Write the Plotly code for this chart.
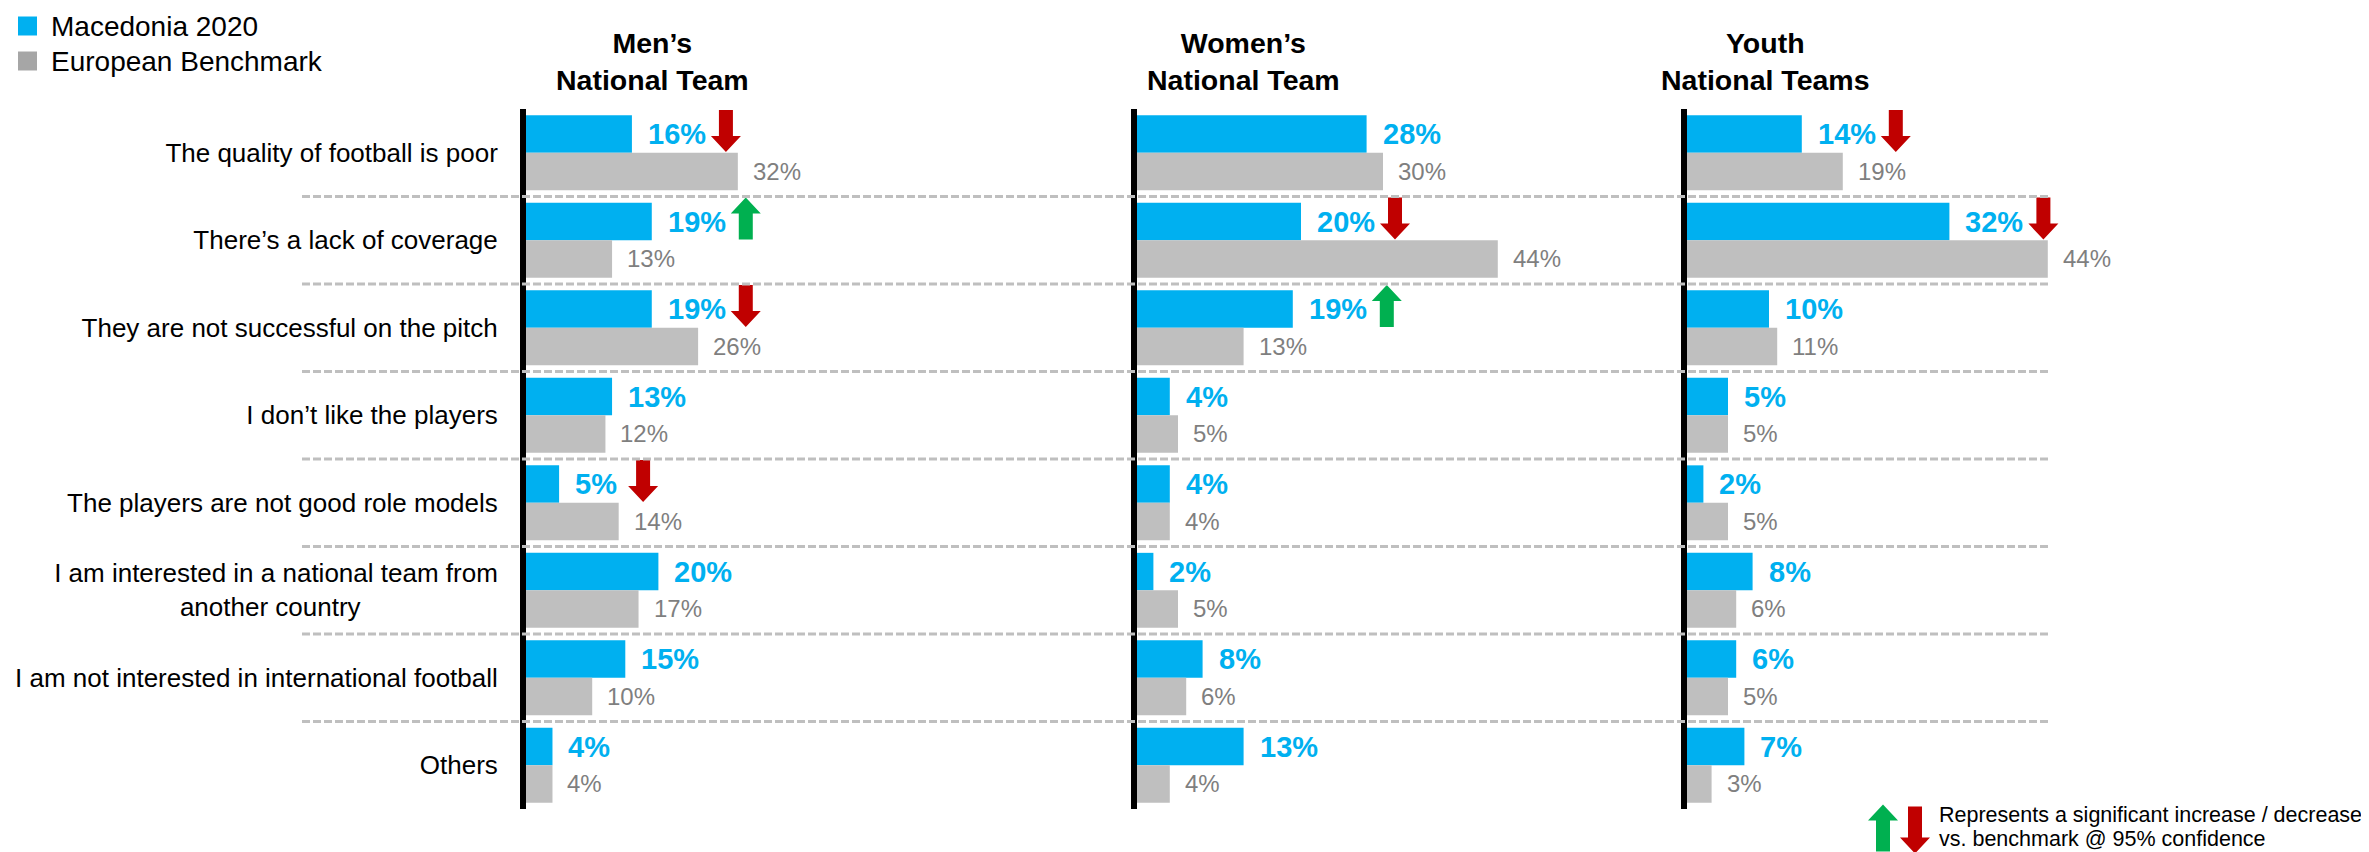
import plotly.graph_objects as go

# ---------------- data ----------------
categories = [
    "The quality of football is poor",
    "There’s a lack of coverage",
    "They are not successful on the pitch",
    "I don’t like the players",
    "The players are not good role models",
    "I am interested in a national team from another country",
    "I am not interested in international football",
    "Others",
]
tick_labels = [
    "The quality of football is poor",
    "There’s a lack of coverage",
    "They are not successful on the pitch",
    "I don’t like the players",
    "The players are not good role models",
    "I am interested in a national team from<br>another country" + "\u00a0" * 19,
    "I am not interested in international football",
    "Others",
]
panel_titles = ["Men’s<br>National Team", "Women’s<br>National Team", "Youth<br>National Teams"]
series_names = ["Macedonia 2020", "European Benchmark"]

men_mk = [16, 19, 19, 13, 5, 20, 15, 4]
men_eu = [32, 13, 26, 12, 14, 17, 10, 4]
men_sig = ["down", "up", "down", "", "down", "", "", ""]

women_mk = [28, 20, 19, 4, 4, 2, 8, 13]
women_eu = [30, 44, 13, 5, 4, 5, 6, 4]
women_sig = ["", "down", "up", "", "", "", "", ""]

youth_mk = [14, 32, 10, 5, 2, 8, 6, 7]
youth_eu = [19, 44, 11, 5, 5, 6, 5, 3]
youth_sig = ["down", "down", "", "", "", "", "", ""]

note_lines = ["Represents a significant increase / decrease", "vs. benchmark @ 95% confidence"]

# ---------------- style ----------------
OFF = 8                      # page body margin
W, H = 2369 - OFF, 852 - OFF
FONT = "Liberation Sans, Arial, sans-serif"
BLUE = "#00B0F0"
GREY = "#BFBFBF"
GREY_LEG = "#A6A6A6"
GREY_TXT = "#7F7F7F"
RED = "#C00000"
GREEN = "#00B050"
BARGAP = 0.145
half = (1 - BARGAP) / 4  # center offset of each bar in a group


def px(x):
    return (x - OFF) / W


def py(y):
    return 1 - (y - OFF) / H


x_domains = [[px(526), px(857)], [px(1137), px(1547)], [px(1687), px(2097)]]
y_domain = [py(809), py(109)]
title_x = [652, 1243, 1765]

panels = [
    (men_mk, men_eu, men_sig),
    (women_mk, women_eu, women_sig),
    (youth_mk, youth_eu, youth_sig),
]

fig = go.Figure()


def arrow_pts(direction, h=42, hw=15, sw=7, hh=16):
    s = 1 if direction == "up" else -1
    top = h / 2
    return [(-sw, -s * top), (sw, -s * top), (sw, s * (top - hh)), (hw, s * (top - hh)),
            (0, s * top), (-hw, s * (top - hh)), (-sw, s * (top - hh))]


def to_path(pts, dx=0, dy=0):
    return "M" + " L".join(f"{x + dx:.1f},{y + dy:.1f}" for x, y in pts) + " Z"


annotations = []
shapes = []

for p, (mk, eu, sig) in enumerate(panels):
    xa = "x" if p == 0 else f"x{p+1}"
    ya = "y" if p == 0 else f"y{p+1}"
    fig.add_trace(go.Bar(y=categories, x=mk, orientation="h", name=series_names[0],
                         marker=dict(color=BLUE, line=dict(width=0)), xaxis=xa, yaxis=ya,
                         showlegend=False, hoverinfo="skip"))
    fig.add_trace(go.Bar(y=categories, x=eu, orientation="h", name=series_names[1],
                         marker=dict(color=GREY, line=dict(width=0)), xaxis=xa, yaxis=ya,
                         showlegend=False, hoverinfo="skip"))
    for i in range(len(categories)):
        annotations.append(dict(x=mk[i], y=i - half, xref=xa, yref=ya, text=f"{mk[i]}%",
                                showarrow=False, xanchor="left", yanchor="middle", xshift=14,
                                font=dict(family=FONT, size=29, color=BLUE, weight="bold")))
        annotations.append(dict(x=eu[i], y=i + half, xref=xa, yref=ya, text=f"{eu[i]}%",
                                showarrow=False, xanchor="left", yanchor="middle", xshift=13,
                                font=dict(family=FONT, size=24, color=GREY_TXT)))
        if sig[i]:
            off = 94 if mk[i] >= 10 else 84
            shapes.append(dict(type="path", xref=xa, yref=ya, xsizemode="pixel", ysizemode="pixel",
                               xanchor=mk[i], yanchor=i - half,
                               path=to_path(arrow_pts(sig[i]), dx=off, dy=3),
                               fillcolor=RED if sig[i] == "down" else GREEN, line=dict(width=0),
                               layer="above"))
    annotations.append(dict(x=px(title_x[p]), y=py(61), xref="paper", yref="paper",
                            text=panel_titles[p], showarrow=False, xanchor="center", yanchor="middle",
                            font=dict(family=FONT, size=28.5, color="black", weight="bold")))

# legend (swatch + text) at the top-left
for k, (name, col) in enumerate(zip(series_names, [BLUE, GREY_LEG])):
    cy = 26 + 35 * k
    shapes.append(dict(type="rect", xref="paper", yref="paper",
                       x0=px(18), x1=px(37), y0=py(cy - 9.5), y1=py(cy + 9.5),
                       fillcolor=col, line=dict(width=0)))
    annotations.append(dict(x=px(49), y=py(cy), xref="paper", yref="paper", text=name,
                            showarrow=False, xanchor="left", yanchor="middle",
                            font=dict(family=FONT, size=28, color="black")))

# dashed separators between categories
for i in range(len(categories) - 1):
    shapes.append(dict(type="line", xref="paper", yref="y", x0=px(302), x1=px(2050),
                       y0=i + 0.5, y1=i + 0.5,
                       line=dict(color=GREY, width=3, dash="8px,3px"), layer="above"))

# significance note (bottom right)
for cx, cy, d, col in [(1883, 828, "up", GREEN), (1915, 830, "down", RED)]:
    shapes.append(dict(type="path", xref="paper", yref="paper", xsizemode="pixel", ysizemode="pixel",
                       xanchor=px(cx), yanchor=py(cy), path=to_path(arrow_pts(d, h=47)),
                       fillcolor=col, line=dict(width=0)))
for k, line in enumerate(note_lines):
    annotations.append(dict(x=px(1937), y=py(815 + 24 * k), xref="paper", yref="paper", text=line,
                            showarrow=False, xanchor="left", yanchor="middle",
                            font=dict(family=FONT, size=21.5, color="black")))

layout = dict(
    width=W, height=H,
    margin=dict(l=0, r=0, t=0, b=0, autoexpand=False),
    paper_bgcolor="white", plot_bgcolor="white",
    barmode="group", bargap=BARGAP, bargroupgap=0,
    font=dict(family=FONT, size=26, color="black"),
    showlegend=False,
    annotations=annotations,
    shapes=shapes,
)
for p in range(3):
    xk = "xaxis" if p == 0 else f"xaxis{p+1}"
    yk = "yaxis" if p == 0 else f"yaxis{p+1}"
    layout[xk] = dict(domain=x_domains[p], range=[0, 50], visible=False, fixedrange=True,
                      anchor="y" if p == 0 else f"y{p+1}")
    ydef = dict(domain=y_domain, type="category", categoryorder="array", categoryarray=categories,
                autorange="reversed", showgrid=False, zeroline=False, showline=True,
                linewidth=6, linecolor="black", ticks="", fixedrange=True,
                anchor="x" if p == 0 else f"x{p+1}")
    if p == 0:
        ydef.update(tickmode="array", tickvals=categories, ticktext=tick_labels,
                    tickfont=dict(family=FONT, size=26, color="black"), ticklabelstandoff=17)
    else:
        ydef.update(showticklabels=False, matches="y")
    layout[yk] = ydef

fig.update_layout(**layout)
fig.write_html("out.html")
